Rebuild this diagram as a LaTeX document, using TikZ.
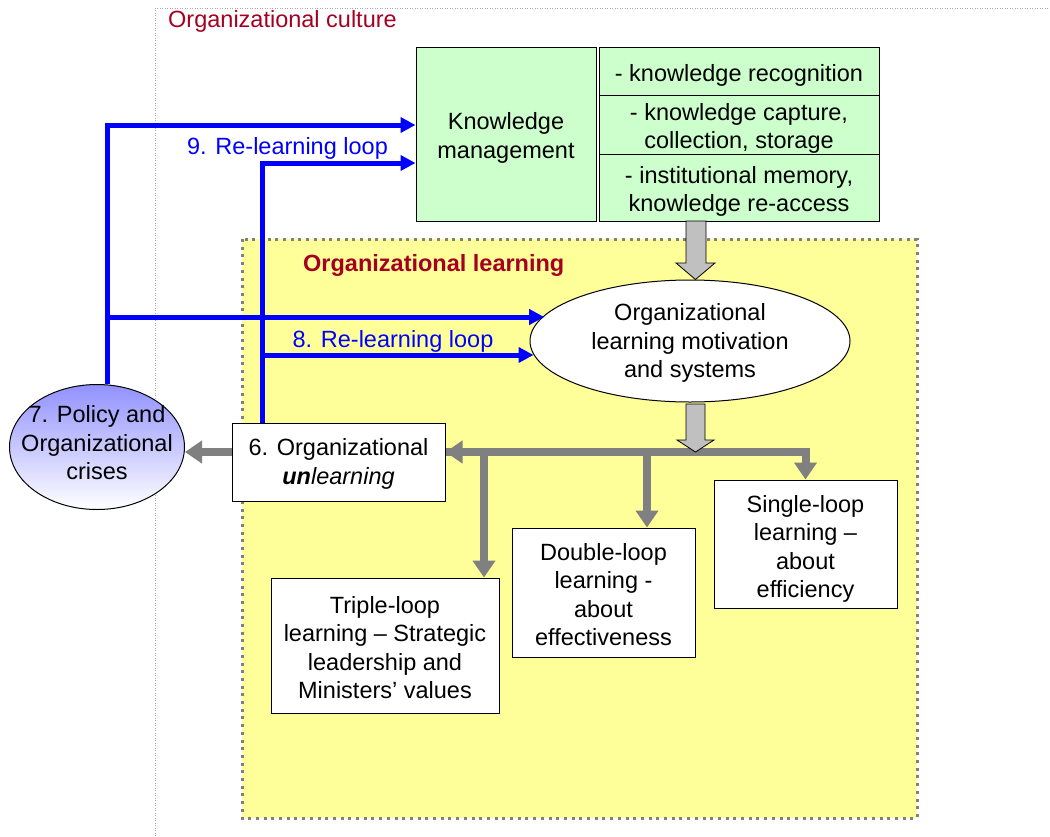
\documentclass[tikz,border=0pt]{standalone}
\usepackage{fontspec}
\setmainfont{Liberation Sans}
\usetikzlibrary{arrows.meta,shapes.geometric,calc}
\definecolor{culturered}{RGB}{165,0,33}
\definecolor{kmgreen}{RGB}{204,255,204}
\definecolor{olyellow}{RGB}{255,255,153}
\definecolor{arrgray}{RGB}{128,128,128}
\definecolor{blockgray}{RGB}{192,192,192}
\definecolor{polblue}{RGB}{145,145,255}
\definecolor{culturegray}{RGB}{170,170,170}
\pgfdeclarelayer{back}
\pgfsetlayers{back,main}
\begin{document}
\begin{tikzpicture}[x=1pt,y=-1pt,
  txt/.style={font=\fontsize{23.5}{28.5}\selectfont, align=center, inner sep=0pt},
  box/.style={draw=black, line width=1pt, fill=white, inner sep=0pt},
  blueconn/.style={draw=blue, line width=5pt, -{Triangle[length=15pt,width=15pt]}},
  grayconn/.style={draw=arrgray, line width=8pt, -{Triangle[length=17pt,width=22pt]}},
  blockarrow/.style={fill=blockgray, draw=black, line width=0.8pt, line join=miter}
]
\useasboundingbox (0,0) rectangle (1050,836);

% organisational culture frame
\draw[culturegray, line width=0.8pt, dash pattern=on 1pt off 1.5pt] (155,836) -- (155,8) -- (1050,8);
\node[txt, text=culturered, anchor=west] (culture) at (168,21) {Organizational culture};

% organisational learning region
\begin{pgfonlayer}{back}
\draw[fill=olyellow, draw=arrgray, line width=3pt, dash pattern=on 3pt off 4.7pt] (242,239) rectangle (917,818);
\end{pgfonlayer}
\node[txt, text=culturered, anchor=west, font=\fontsize{23.5}{28.5}\selectfont\bfseries] (learning) at (303,265) {Organizational learning};

% knowledge management
\node[box, fill=kmgreen, minimum width=180pt, minimum height=174pt] (km) at (506,134) {};
\node[txt] (kmt) at ($(km.center)+(0,4)$) {Knowledge\\management};
\node[box, fill=kmgreen, minimum width=280pt, minimum height=48pt] (r1) at (739,71) {};
\node[txt] (r1t) at ($(r1.center)+(0,4)$) {- knowledge recognition};
\node[box, fill=kmgreen, minimum width=280pt, minimum height=59pt] (r2) at (739,124.5) {};
\node[txt] (r2t) at ($(r2.center)+(0,4)$) {- knowledge capture,\\collection, storage};
\node[box, fill=kmgreen, minimum width=280pt, minimum height=67pt] (r3) at (739,187.5) {};
\node[txt] (r3t) at ($(r3.center)+(0,4)$) {- institutional memory,\\knowledge re-access};

% ellipses
\node[ellipse, draw=black, line width=1pt, fill=white, inner sep=0pt, minimum width=320pt, minimum height=122pt] (ols) at (690,341) {};
\node[txt] (olst) at ($(ols.center)+(0,2)$) {Organizational\\learning motivation\\and systems};

% blue re-learning loops (start under the policy ellipse)
\coordinate (c9) at (107,125);
\coordinate (c9b) at (262,163);
\coordinate (c8a) at (107,317);
\coordinate (c8b) at (262,355);

\node[ellipse, draw=black, line width=1pt, top color=polblue, bottom color=white, inner sep=0pt, minimum width=175pt, minimum height=125pt] (pol) at (97,447) {};
\node[txt] (polt) at (97,443) {7. Policy and\\Organizational\\crises};

\draw[blueconn] (c9 |- pol.north) |- (km.west |- c9);
\draw[blueconn] (c8a) -- (c8a -| ols.170.7);

% boxes
\node[box, minimum width=213pt, minimum height=78pt] (unl) at (338.5,462) {};
\node[txt] (unlt) at ($(unl.center)+(0,2)$) {6. Organizational\\\textbf{\textit{un}}\textit{learning}};
\node[box, minimum width=228pt, minimum height=135pt] (triple) at (385,645.5) {};
\node[txt] (triplet) at ($(triple.center)+(0,2)$) {Triple-loop\\learning -- Strategic\\leadership and\\Ministers’ values};
\node[box, minimum width=183pt, minimum height=129pt] (double) at (603.5,592.5) {};
\node[txt] (doublet) at ($(double.center)+(0,2)$) {Double-loop\\learning -\\about\\effectiveness};
\node[box, minimum width=183pt, minimum height=128pt] (single) at (805.5,544) {};
\node[txt] (singlet) at ($(single.center)+(0,5)$) {Single-loop\\learning --\\about\\efficiency};

\draw[blueconn] (c9b |- unl.north) |- (km.west |- c9b);
\draw[blueconn] (c8b) -- (c8b -| ols.185.1);

\node[txt, text=blue] (l9) at (287.5,148) {9. Re-learning loop};
\node[txt, text=blue] (l8) at (393,341) {8. Re-learning loop};

% gray distribution lines
\coordinate (gy) at (0,452);
\coordinate (gj) at (single.north |- gy);
\coordinate (t3) at (484,452);
\coordinate (t2) at (647,452);
\draw[grayconn, line join=miter] (unl.east |- gy) -- (gj) -- (single.north);
\draw[grayconn] ($(unl.east |- gy)+(8,0)$) -- (unl.east |- gy);
\draw[grayconn] (t3) -- (t3 |- triple.north);
\draw[grayconn] (t2) -- (t2 |- double.north);
\draw[grayconn] (unl.west |- gy) -- (pol.east |- gy);

% block arrows
\draw[blockarrow] (686,221) -- (706,221) -- (706,263) -- (715,263) -- (695.5,279.5) -- (676,263) -- (686,263) -- cycle;
\draw[blockarrow] (686,404) -- (705,404) -- (705,440) -- (714,440) -- (695.5,452) -- (677,440) -- (686,440) -- cycle;
\end{tikzpicture}
\end{document}
